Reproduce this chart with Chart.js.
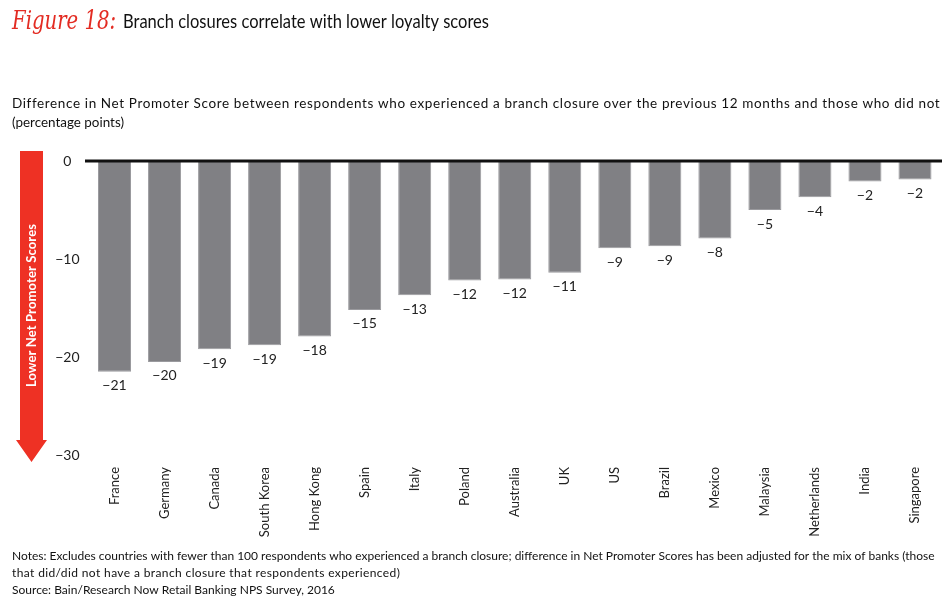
<!DOCTYPE html>
<html>
<head>
<meta charset="utf-8">
<script src="https://cdn.jsdelivr.net/npm/chart.js@4"></script>
<style>
  html, body { margin: 0; padding: 0; background: #fff; }
  #wrap { position: relative; width: 950px; height: 607px; }
</style>
</head>
<body>
<div id="wrap"><canvas id="myChart" width="950" height="607"></canvas></div>
<script>
const countries = ["France", "Germany", "Canada", "South Korea", "Hong Kong", "Spain", "Italy", "Poland",
  "Australia", "UK", "US", "Brazil", "Mexico", "Malaysia", "Netherlands", "India", "Singapore"];
const npsDiff = [-21.5, -20.5, -19.2, -18.8, -17.9, -15.2, -13.7, -12.2, -12.1, -11.4, -8.9, -8.7, -7.9, -5.0, -3.7, -2.1, -1.9];
const valueLabels = ["-21", "-20", "-19", "-19", "-18", "-15", "-13", "-12", "-12", "-11", "-9", "-9", "-8", "-5", "-4", "-2", "-2"];
const yTicks = [0, -10, -20, -30];

const FONT = "Lato, 'Noto Sans', sans-serif";
const minus = s => String(s).replace("-", "\u2212");

// spread text to a given width with letter spacing (the original uses a wider font)
function fitText(c, text, x, y, w) {
  c.save();
  c.letterSpacing = "0px";
  const m = c.measureText(text).width;
  if (m < w) {
    c.letterSpacing = ((w - m) / text.length).toFixed(2) + "px";
    c.fillText(text, x, y);
  } else {
    c.translate(x, y);
    c.scale(w / m, 1);
    c.fillText(text, 0, 0);
  }
  c.restore();
}

// title, subtitle, notes, red arrow, zero line
const decor = {
  id: "decor",
  beforeDraw(chart) {
    const c = chart.ctx;
    c.save();
    c.textBaseline = "middle";
    c.fillStyle = "#e32b22";
    c.font = "italic 26px 'DejaVu Serif', serif";
    fitText(c, "Figure 18:", 12, 22, 104);
    c.fillStyle = "#111";
    c.font = "19px " + FONT;
    fitText(c, "Branch closures correlate with lower loyalty scores", 123, 22, 366);

    c.font = "13.5px " + FONT;
    fitText(c, "Difference in Net Promoter Score between respondents who experienced a branch closure over the previous 12 months and those who did not", 12, 104, 928);
    fitText(c, "(percentage points)", 12, 123, 112);

    c.font = "12px " + FONT;
    fitText(c, "Notes: Excludes countries with fewer than 100 respondents who experienced a branch closure; difference in Net Promoter Scores has been adjusted for the mix of banks (those", 12, 556, 923);
    fitText(c, "that did/did not have a branch closure that respondents experienced)", 12, 573, 388);
    fitText(c, "Source: Bain/Research Now Retail Banking NPS Survey, 2016", 12, 590, 323);

    // arrow
    c.fillStyle = "#ee3124";
    c.beginPath();
    c.moveTo(20, 151);
    c.lineTo(43, 151);
    c.lineTo(43, 440);
    c.lineTo(47, 440);
    c.lineTo(31.5, 462);
    c.lineTo(16, 440);
    c.lineTo(20, 440);
    c.closePath();
    c.fill();
    c.translate(31.5, 306);
    c.rotate(-Math.PI / 2);
    c.fillStyle = "#fff";
    c.font = "bold 13px " + FONT;
    fitText(c, "Lower Net Promoter Scores", -81, 0, 163);
    c.restore();
  },
  afterDatasetsDraw(chart) {
    const c = chart.ctx;
    const y0 = chart.scales.y.getPixelForValue(0);
    c.save();
    c.fillStyle = "#111";
    c.fillRect(85, y0 - 1.5, 857, 3);
    c.restore();
  }
};

// value labels under each bar
const barLabels = {
  id: "barLabels",
  afterDatasetsDraw(chart) {
    const c = chart.ctx;
    const meta = chart.getDatasetMeta(0);
    c.save();
    c.fillStyle = "#222";
    c.font = "14px " + FONT;
    c.textAlign = "center";
    c.textBaseline = "top";
    meta.data.forEach((bar, i) => {
      c.fillText(minus(valueLabels[i]), bar.x, bar.y + 7);
    });
    c.restore();
  }
};

new Chart(document.querySelector("#myChart"), {
  type: "bar",
  data: {
    labels: countries,
    datasets: [{
      data: npsDiff,
      backgroundColor: "#808084",
      borderColor: "#9a9a9e",
      borderWidth: 1,
      borderSkipped: "start",
      barPercentage: 0.66,
      categoryPercentage: 1
    }]
  },
  options: {
    responsive: false,
    animation: false,
    devicePixelRatio: 1,
    layout: { padding: { top: 161, right: 10, left: 0, bottom: 0 } },
    plugins: { legend: { display: false }, tooltip: { enabled: false } },
    scales: {
      x: {
        grid: { display: false },
        border: { display: false },
        ticks: {
          color: "#222",
          font: { size: 13, family: FONT },
          minRotation: 90,
          maxRotation: 90,
          padding: 4
        },
        afterFit(axis) { axis.height = 152; }
      },
      y: {
        min: -30,
        max: 0,
        border: { display: false },
        grid: { display: false },
        afterBuildTicks(axis) { axis.ticks = yTicks.map(v => ({ value: v })); },
        ticks: {
          color: "#222",
          font: { size: 14, family: FONT },
          padding: 2,
          crossAlign: "center",
          callback: v => minus(v)
        },
        afterFit(axis) { axis.width = 89.5; }
      }
    }
  },
  plugins: [decor, barLabels]
});
</script>
</body>
</html>
